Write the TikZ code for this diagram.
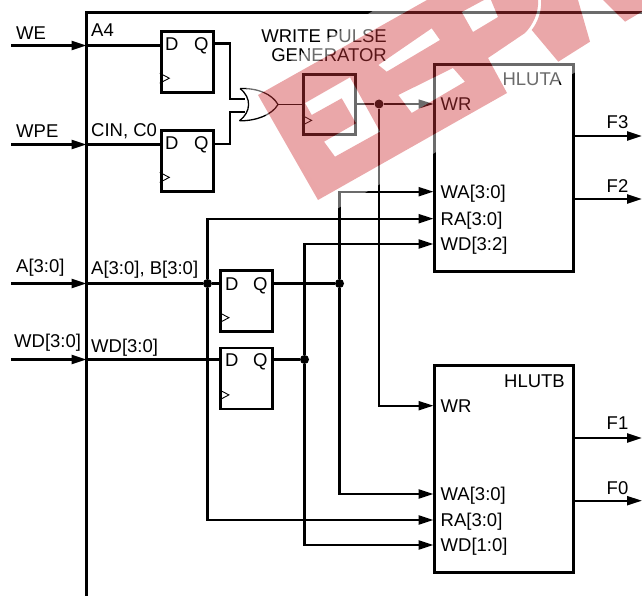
\documentclass[tikz,border=0pt]{standalone}
\usepackage{fontspec}
\setmainfont{Liberation Sans}
\usetikzlibrary{arrows.meta}
\tikzset{
  lbl/.style={anchor=base west,inner sep=0pt,yshift=-0.8pt,font=\fontsize{18.5}{19}\selectfont},
  ffbox/.style={rectangle,draw=black,line width=2.8pt,inner sep=0pt,minimum width=52pt,minimum height=61pt},
  lutbox/.style={rectangle,draw=black,line width=3pt,inner sep=0pt,minimum width=138.5pt,minimum height=206.5pt},
  wire/.style={line width=2.3pt},
  wirearrow/.style={wire,-{Triangle[length=15pt,width=9pt]}},
  thinwire/.style={line width=1.3pt},
  clkline/.style={line width=0.9pt},
  jdot/.style={circle,fill=black,inner sep=0pt,minimum size=9pt},
  wmark/.style={fill={rgb,1:red,0.81;green,0.2;blue,0.22},fill opacity=0.43,even odd rule},
  wglow/.style={fill=white,fill opacity=0.42,even odd rule},
  wmshape/.style={insert path={
    (258,95)--(427,0)--(538,0)..controls (539,12) and (533,25)..(525,33)--(488,58)--(507,93)--(318,200)--cycle
    (305,103)--(350,77.3)--(380,131.7)--(335,156.7)--(324,141.7)--(356,123.3)--(341.7,98.3)--(311.7,115)--cycle
    (378.3,65)--(431.7,28.3)--(440,40)--(386.7,71.7)--cycle
    (398.3,95)--(453,68)--(465,81.7)--(411.7,113)--cycle
    (461.7,12)--(484,0)--(491,0)--(498,17)--(473,32)--cycle
    (541,0)..controls (542,10) and (538,22)..(531.7,30)--(558.3,61.7)--(590,41.7)--(578,0)--cycle
    (603,0)--(625,21.7)--(642,11.7)--(642,0)--cycle
  }}
}
\newcommand{\clockmark}[1]{\draw[clkline] ([yshift=20.5pt]#1.south west)--([xshift=9.5pt,yshift=15.5pt]#1.south west)--([yshift=10.5pt]#1.south west);}
\begin{document}
\begin{tikzpicture}[x=1pt,y=-1pt]
\useasboundingbox (0,0) rectangle (642,596);
\coordinate (framebot) at (86.5,596);
\coordinate (framecorner) at (86.5,13);
\coordinate (frameend) at (642,13);
\draw[line width=3pt] (framebot)--(framecorner)--(frameend);
% flip-flops
\node[ffbox] (ffa) at (187.2,61.8) {};
\node[ffbox] (ffb) at (187.2,161) {};
\node[ffbox] (ffc) at (246.8,301.3) {};
\node[ffbox] (ffd) at (246.8,378.5) {};
\node[ffbox,minimum height=60pt] (pulse) at (329.5,104.5) {};
\clockmark{ffa}
\clockmark{ffb}
\clockmark{ffc}
\clockmark{ffd}
\clockmark{pulse}
\node[lbl] (ffad) at (165,50) {D};
\node[lbl] (ffaq) at (194,50) {Q};
\node[lbl] (ffbd) at (165,149) {D};
\node[lbl] (ffbq) at (194,149) {Q};
\node[lbl] (ffcd) at (225,290) {D};
\node[lbl] (ffcq) at (253,290) {Q};
\node[lbl] (ffdd) at (225,366) {D};
\node[lbl] (ffdq) at (253,366) {Q};
\node[lbl,anchor=east,align=right] (pulsetext) at (387,45) {WRITE PULSE\\GENERATOR};
% luts
\node[lutbox] (hluta) at (503.8,167.8) {};
\node[lutbox] (hlutb) at (504,468.8) {};
\node[lbl,anchor=base east] (hlutaname) at (562,85) {HLUTA};
\node[lbl,anchor=base east] (hlutbname) at (565,386.7) {HLUTB};
\node[lbl] (wratext) at (440.5,110) {WR};
\node[lbl] (waatext) at (440.5,198) {WA[3:0]};
\node[lbl] (raatext) at (440.5,224.5) {RA[3:0]};
\node[lbl] (wdatext) at (440.5,250) {WD[3:2]};
\node[lbl] (wrbtext) at (440.5,411.7) {WR};
\node[lbl] (wabtext) at (440.5,499.7) {WA[3:0]};
\node[lbl] (rabtext) at (440.5,525.7) {RA[3:0]};
\node[lbl] (wdbtext) at (440.5,551) {WD[1:0]};
% inputs
\node[lbl] (wetext) at (16,39) {WE};
\node[lbl] (wpetext) at (16,137) {WPE};
\node[lbl] (atext) at (16,272) {A[3:0]};
\node[lbl] (wdtext) at (14,346.7) {WD[3:0]};
\node[lbl] (a4text) at (91,36) {A4};
\node[lbl] (cintext) at (91,136) {CIN, C0};
\node[lbl] (abtext) at (91,274) {A[3:0], B[3:0]};
\node[lbl] (wdintext) at (91,351.7) {WD[3:0]};
\coordinate (wein) at (11,45.5);
\coordinate (wpein) at (11,144.5);
\coordinate (ain) at (11,283.5);
\coordinate (wdin) at (11,359.5);
\draw[wirearrow] (wein)--(framebot |- wein);
\draw[wirearrow] (wpein)--(framebot |- wpein);
\draw[wirearrow] (ain)--(framebot |- ain);
\draw[wirearrow] (wdin)--(framebot |- wdin);
\draw[wire] (framebot |- wein)--(ffa.west |- wein);
\draw[wire] (framebot |- wpein)--(ffb.west |- wpein);
\node[jdot] (dotra) at (207.5,283.5) {};
\node[jdot] (dotwa) at (339.5,283.5) {};
\node[jdot] (dotwd) at (304.5,359.5) {};
\node[jdot] (dotwr) at (379,104) {};
\draw[wire] (framebot |- ain)--(dotra)--(ffc.west |- ain);
\draw[wire] (framebot |- wdin)--(ffd.west |- wdin);
% or gate
\coordinate (ortop) at (240,88.5);
\coordinate (orbot) at (239.5,120.8);
\coordinate (orout) at (278,104.5);
\coordinate (ora) at (245,99);
\coordinate (orb) at (245,112);
\draw[wire] (ffa.east |- 0,43.5)-|(230,99)--(ora);
\draw[wire] (ffb.east |- 0,143.7)-|(230,112)--(orb);
\draw[thinwire] (ortop)..controls (252,98) and (251,112)..(orbot);
\draw[thinwire] (ortop)..controls (258,88) and (272,94)..(orout)..controls (272,115) and (256,121)..(orbot);
\draw[thinwire] (orout)--(pulse.west |- orout);
\coordinate (wra) at (433.5,104);
\coordinate (waa) at (433.5,191.7);
\coordinate (raa) at (433.5,218.7);
\coordinate (wda) at (433.5,244);
\coordinate (wrb) at (433.5,405.7);
\coordinate (wab) at (433.5,494);
\coordinate (rab) at (433.5,520);
\coordinate (wdb) at (433.5,545);
\draw[thinwire] (pulse.east |- dotwr)--(dotwr);
\draw[thinwire,-{Triangle[length=15pt,width=9pt]}] (dotwr)--(wra);
\draw[wirearrow] (dotwr) |- (wrb);
\draw[wire] (ffc.east |- dotwa)--(dotwa);
\draw[wirearrow] (dotwa) |- (waa);
\draw[wirearrow] (dotwa) |- (wab);
\draw[wirearrow] (dotra) |- (raa);
\draw[wirearrow] (dotra) |- (rab);
\draw[wire] (ffd.east |- dotwd)--(dotwd);
\draw[wirearrow] (dotwd) |- (wda);
\draw[wirearrow] (dotwd) |- (wdb);
% outputs
\coordinate (fthree) at (642,136);
\coordinate (ftwo) at (642,199);
\coordinate (fone) at (642,438);
\coordinate (fzero) at (642,500.7);
\draw[wirearrow] (hluta.east |- fthree)--(fthree);
\draw[wirearrow] (hluta.east |- ftwo)--(ftwo);
\draw[wirearrow] (hlutb.east |- fone)--(fone);
\draw[wirearrow] (hlutb.east |- fzero)--(fzero);
\node[lbl] (fthreetext) at (606.5,128) {F3};
\node[lbl] (ftwotext) at (606.5,191.7) {F2};
\node[lbl] (fonetext) at (606.5,428.7) {F1};
\node[lbl] (fzerotext) at (606.5,493.7) {F0};
% watermark
\fill[wglow] (246,88)--(391,0)--(642,0)--(642,34)--(335,210)--cycle [wmshape];
\fill[wmark] [wmshape];
\end{tikzpicture}
\end{document}
